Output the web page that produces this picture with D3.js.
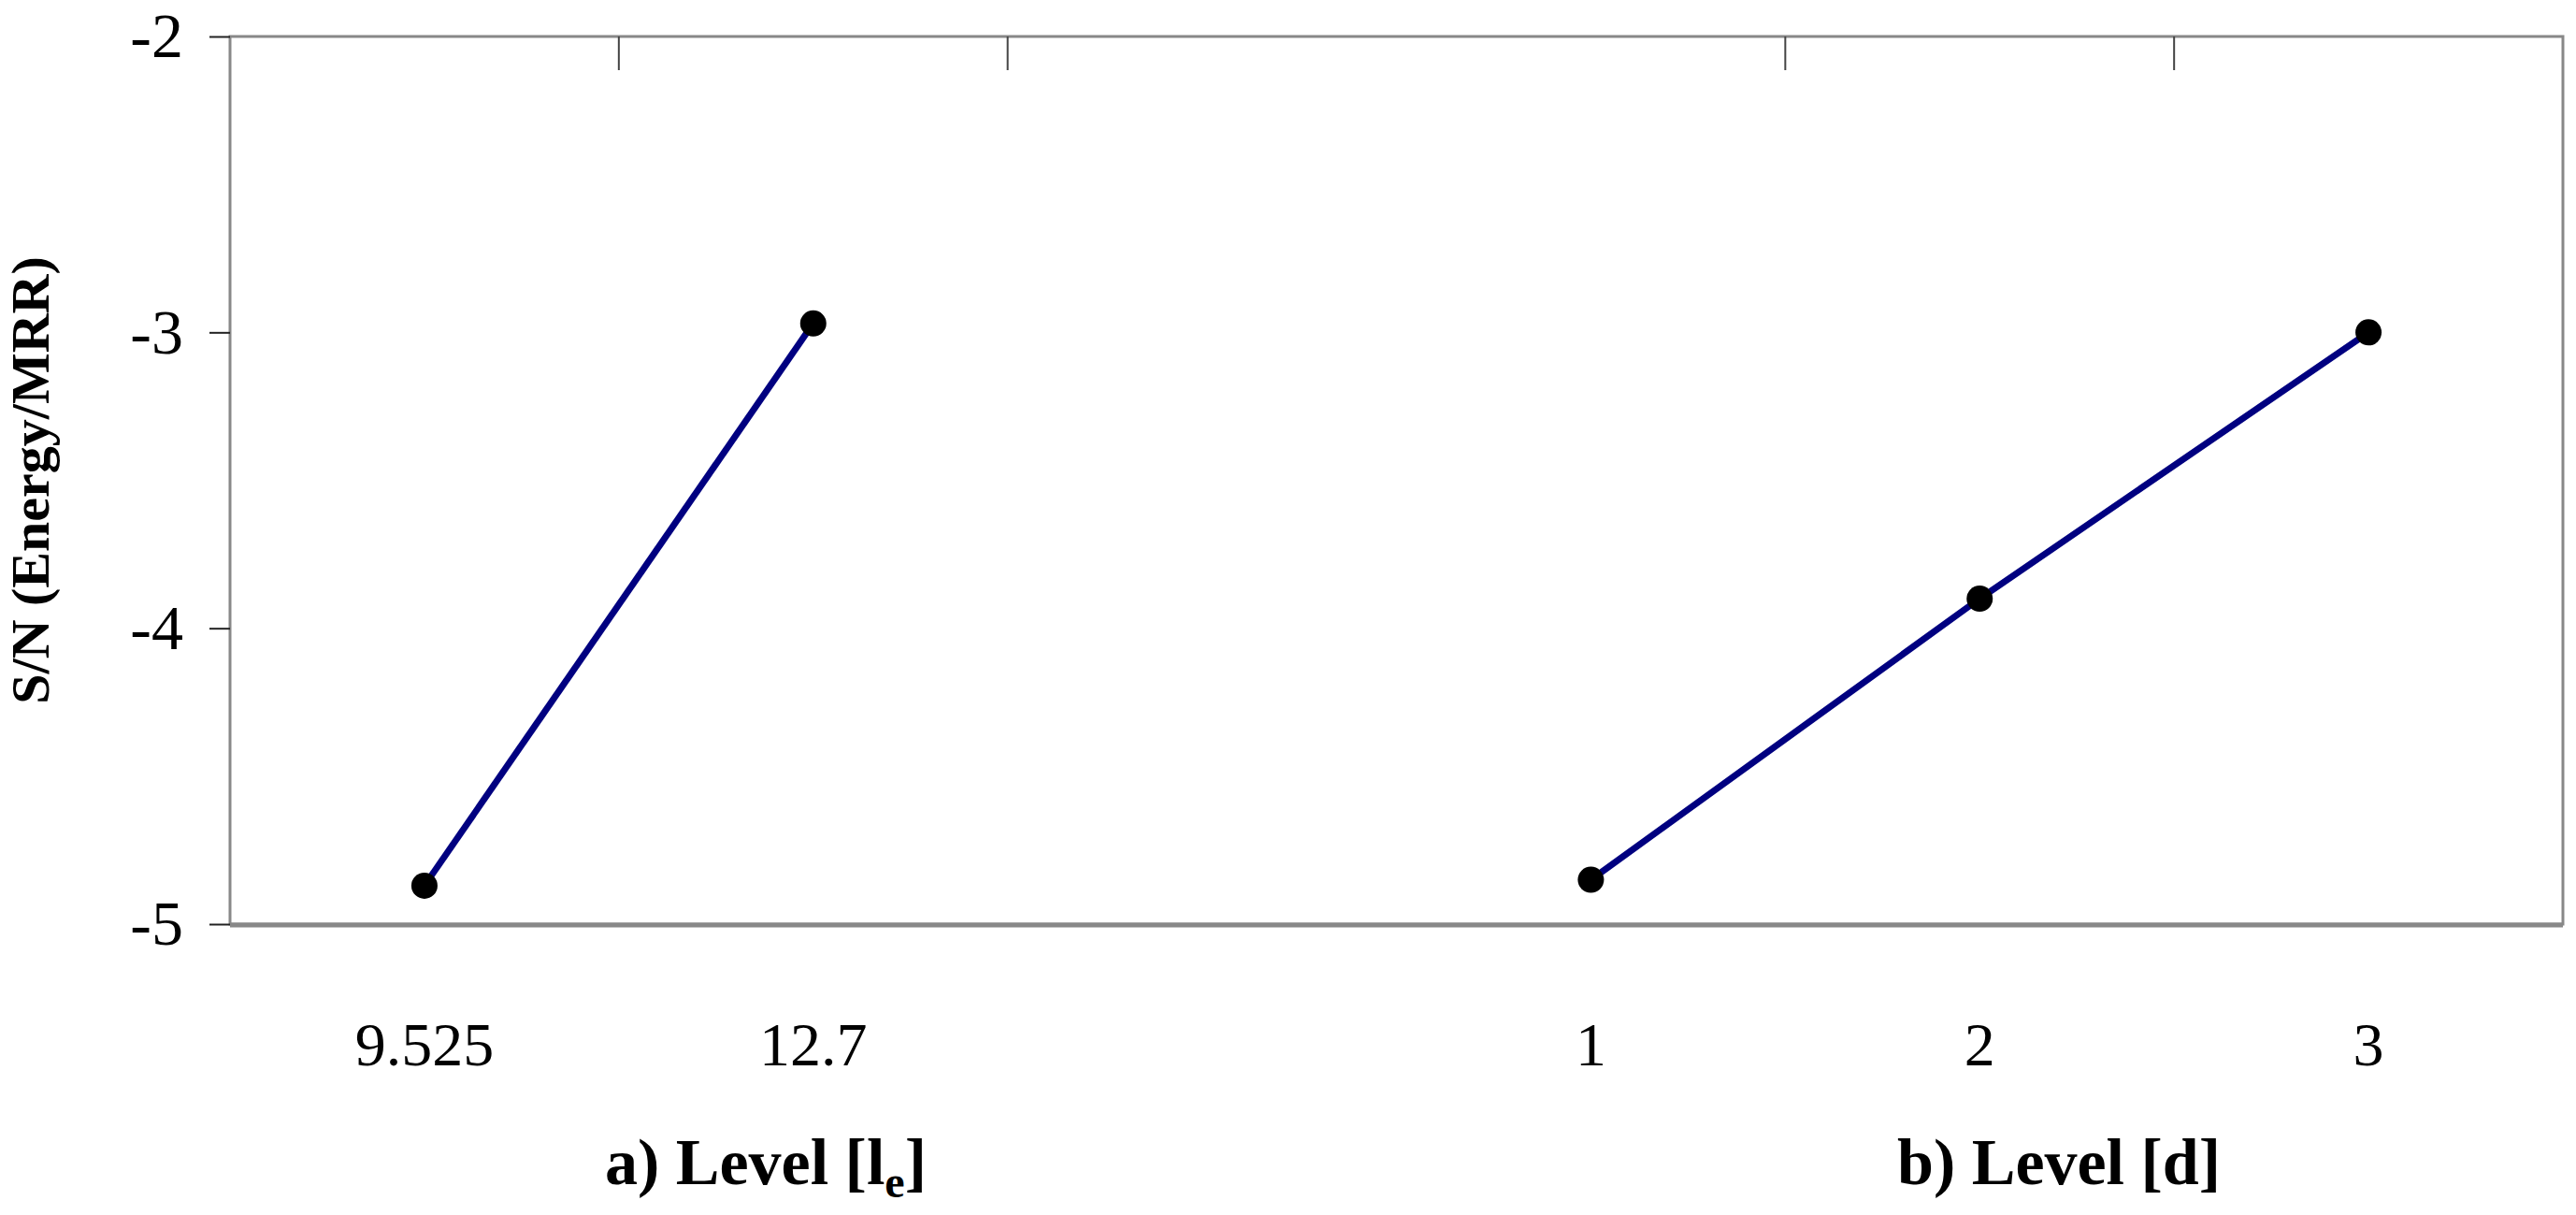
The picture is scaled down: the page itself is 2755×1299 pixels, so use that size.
<!DOCTYPE html>
<html>
<head>
<meta charset="utf-8">
<script src="https://cdn.jsdelivr.net/npm/d3@7"></script>
<style>
  body { margin: 0; background: #fff; }
  text { font-family: "Liberation Serif", "Times New Roman", serif; }
</style>
</head>
<body>
<svg id="chart"></svg>
<script>
// six slots on the x axis, one left empty between the two factors
const slots = ['9.525', '12.7', '', '1', '2', '3'];
const seriesA = [{ cat: '9.525', sn: -4.87 }, { cat: '12.7', sn: -2.97 }];
const seriesB = [{ cat: '1', sn: -4.85 }, { cat: '2', sn: -3.9 }, { cat: '3', sn: -3.0 }];
const yTicks = [-2, -3, -4, -5];
const topTickAfter = ['9.525', '12.7', '1', '2'];

const width = 2755, height = 1299;
const margin = { top: 39, right: 14, bottom: 311, left: 246 };

const svg = d3.select('#chart').attr('width', width).attr('height', height);

const x = d3.scaleBand().domain(slots.map((d, i) => i)).range([margin.left, width - margin.right]);
const xc = c => x(slots.indexOf(c)) + x.bandwidth() / 2;
const y = d3.scaleLinear().domain([-5, -2]).range([height - margin.bottom, margin.top]);

// frame
svg.append('rect')
  .attr('x', margin.left).attr('y', margin.top)
  .attr('width', width - margin.left - margin.right)
  .attr('height', height - margin.top - margin.bottom)
  .attr('fill', 'none').attr('stroke', '#888').attr('stroke-width', 3);
svg.append('line')
  .attr('x1', margin.left).attr('x2', width - margin.right)
  .attr('y1', y(-5) + 1).attr('y2', y(-5) + 1)
  .attr('stroke', '#888').attr('stroke-width', 5);

// top ticks at slot boundaries
svg.selectAll('.ttick').data(topTickAfter).enter().append('line')
  .attr('x1', d => x(slots.indexOf(d)) + x.bandwidth())
  .attr('x2', d => x(slots.indexOf(d)) + x.bandwidth())
  .attr('y1', margin.top).attr('y2', margin.top + 36)
  .attr('stroke', '#444').attr('stroke-width', 2);

// y axis
const yAxis = svg.append('g')
  .attr('transform', `translate(${margin.left},0)`)
  .call(d3.axisLeft(y).tickValues(yTicks).tickSize(22).tickPadding(28).tickFormat(d => String(d).replace('−', '-')));
yAxis.select('.domain').remove();
yAxis.selectAll('line').attr('stroke', '#222').attr('stroke-width', 2);
yAxis.selectAll('text').style('font-size', '68px').attr('fill', '#000')
  .style('font-family', '"Liberation Serif", serif');

// x labels
svg.selectAll('.xl').data(slots.filter(d => d)).enter().append('text')
  .attr('x', d => xc(d)).attr('y', 1139)
  .attr('text-anchor', 'middle').style('font-size', '66px')
  .text(d => d);

// axis titles
svg.append('text')
  .attr('transform', `translate(52,${(margin.top + height - margin.bottom) / 2}) rotate(-90)`)
  .attr('text-anchor', 'middle').style('font-size', '58px').style('font-weight', 'bold')
  .text('S/N (Energy/MRR)');

const ta = svg.append('text').attr('x', 819).attr('y', 1266)
  .attr('text-anchor', 'middle').style('font-size', '70px').style('font-weight', 'bold');
ta.append('tspan').text('a) Level [l');
ta.append('tspan').attr('dy', 14).style('font-size', '48px').text('e');
ta.append('tspan').attr('dy', -14).text(']');

svg.append('text').attr('x', 2202).attr('y', 1266)
  .attr('text-anchor', 'middle').style('font-size', '70px').style('font-weight', 'bold')
  .text('b) Level [d]');

// series
const line = d3.line().x(d => xc(d.cat)).y(d => y(d.sn));
[seriesA, seriesB].forEach(s => {
  svg.append('path').datum(s).attr('d', line)
    .attr('fill', 'none').attr('stroke', '#000080').attr('stroke-width', 7);
  svg.selectAll(null).data(s).enter().append('circle')
    .attr('cx', d => xc(d.cat)).attr('cy', d => y(d.sn)).attr('r', 14)
    .attr('fill', '#000');
});
</script>
</body>
</html>
